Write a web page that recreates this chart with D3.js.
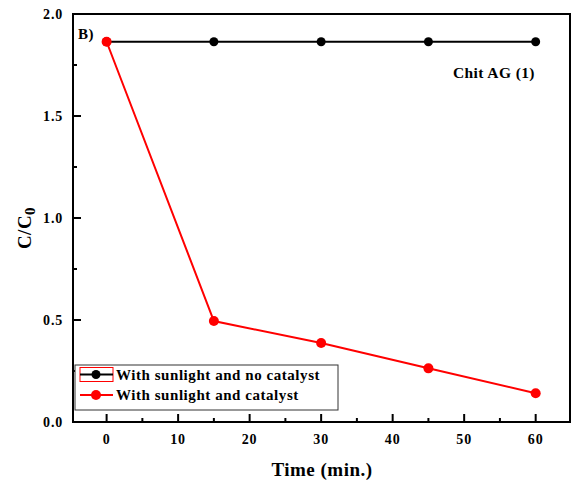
<!DOCTYPE html>
<html><head><meta charset="utf-8">
<script src="https://cdn.jsdelivr.net/npm/d3@7"></script>
<style>body{margin:0;background:#fff}</style>
</head><body>
<script>
const times = [0, 15, 30, 45, 60];
const noCatalyst = [1.864, 1.864, 1.864, 1.864, 1.864];
const withCatalyst = [1.864, 0.495, 0.387, 0.263, 0.141];
const xTicks = [0, 10, 20, 30, 40, 50, 60];
const yTicks = [0.0, 0.5, 1.0, 1.5, 2.0];
const seriesNames = ["With sunlight and no catalyst", "With sunlight and catalyst"];

const W = 571, H = 484;
const L = 73, R = 570, T = 14, B = 422;
const font = "'Liberation Serif','Times New Roman',serif";

const svg = d3.select("body").append("svg").attr("width", W).attr("height", H)
  .style("font-family", font).style("font-weight", "bold");

const x = d3.scaleLinear().domain([-4.7, 64.8]).range([L, R]);
const y = d3.scaleLinear().domain([0, 2.0]).range([B, T]);

// frame
svg.append("rect").attr("x", L).attr("y", T).attr("width", R - L).attr("height", B - T)
  .attr("fill", "none").attr("stroke", "#000").attr("stroke-width", 2);

// x ticks (inward)
const xMinor = d3.range(5, 65, 10);
const xa = svg.append("g");
xTicks.forEach(t => {
  xa.append("line").attr("x1", x(t)).attr("x2", x(t)).attr("y1", B).attr("y2", B - 8)
    .attr("stroke", "#000").attr("stroke-width", 2);
  xa.append("text").attr("x", x(t)).attr("y", 444).attr("text-anchor", "middle")
    .attr("font-size", 14).attr("letter-spacing", 0.8).text(d3.format("d")(t));
});
xMinor.forEach(t => {
  xa.append("line").attr("x1", x(t)).attr("x2", x(t)).attr("y1", B).attr("y2", B - 4)
    .attr("stroke", "#000").attr("stroke-width", 2);
});
// y ticks
const ya = svg.append("g");
yTicks.forEach(t => {
  ya.append("line").attr("x1", L).attr("x2", L + 8).attr("y1", y(t)).attr("y2", y(t))
    .attr("stroke", "#000").attr("stroke-width", 2);
  ya.append("text").attr("x", 63).attr("y", y(t) + 5).attr("text-anchor", "end")
    .attr("font-size", 14).attr("letter-spacing", 0.8).text(d3.format(".1f")(t));
});
[0.25, 0.75, 1.25, 1.75].forEach(t => {
  ya.append("line").attr("x1", L).attr("x2", L + 4).attr("y1", y(t)).attr("y2", y(t))
    .attr("stroke", "#000").attr("stroke-width", 2);
});

// axis titles
svg.append("text").attr("x", 322).attr("y", 476).attr("text-anchor", "middle")
  .attr("font-size", 19).attr("letter-spacing", 0.5).text("Time (min.)");
const yl = svg.append("text").attr("transform", "translate(31,228) rotate(-90)")
  .attr("text-anchor", "middle").attr("font-size", 19).attr("letter-spacing", 0.5);
yl.append("tspan").text("C/C");
yl.append("tspan").attr("font-size", 15).attr("dy", 4).text("0");

// series
const line = d3.line().x((d, i) => x(times[i])).y(d => y(d));
const series = [{v: noCatalyst, c: "#000", r: 4.5}, {v: withCatalyst, c: "#ff0000", r: 5}];
series.forEach(s => {
  svg.append("path").attr("d", line(s.v)).attr("fill", "none").attr("stroke", s.c).attr("stroke-width", 2);
  svg.selectAll(null).data(s.v).enter().append("circle")
    .attr("cx", (d, i) => x(times[i])).attr("cy", d => y(d)).attr("r", s.r).attr("fill", s.c);
});

// annotations
svg.append("text").attr("x", 78).attr("y", 39).attr("font-size", 15).attr("letter-spacing", 0.5).text("B)");
svg.append("text").attr("x", 453).attr("y", 78).attr("font-size", 15.5).attr("letter-spacing", 0.4).text("Chit AG (1)");

// legend
const lg = svg.append("g");
lg.append("rect").attr("x", 75).attr("y", 365).attr("width", 263).attr("height", 45)
  .attr("fill", "#fff").attr("stroke", "#333").attr("stroke-width", 1);
lg.append("rect").attr("x", 80).attr("y", 367.5).attr("width", 33).attr("height", 14)
  .attr("fill", "none").attr("stroke", "#ff0000").attr("stroke-width", 1);
const rows = [{y: 374.5, c: "#000", r: 4.5}, {y: 395, c: "#ff0000", r: 5}];
rows.forEach((r, i) => {
  lg.append("line").attr("x1", 80).attr("x2", 113).attr("y1", r.y).attr("y2", r.y)
    .attr("stroke", r.c).attr("stroke-width", 2);
  lg.append("circle").attr("cx", 96).attr("cy", r.y).attr("r", r.r).attr("fill", r.c);
  lg.append("text").attr("x", 116).attr("y", r.y + 5).attr("font-size", 15).attr("letter-spacing", 0.55).text(seriesNames[i]);
});
</script>
</body></html>
